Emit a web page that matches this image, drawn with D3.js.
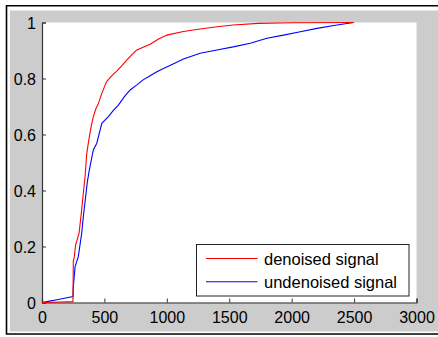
<!DOCTYPE html>
<html><head><meta charset="utf-8">
<script src="https://cdn.jsdelivr.net/npm/d3@7"></script>
<style>html,body{margin:0;padding:0;background:#fff;}svg{display:block;}</style>
</head><body>
<svg id="c" width="438" height="337"></svg>
<script>
// ---- data ----
const xTicks = [0, 500, 1000, 1500, 2000, 2500, 3000];
const yTicks = [0, 0.2, 0.4, 0.6, 0.8, 1];
const yTickLabels = ["0", "0.2", "0.4", "0.6", "0.8", "1"];
const seriesNames = ["denoised signal", "undenoised signal"];
const denoisedX = [0, 150, 248, 251, 258, 270, 272, 297, 315, 331, 345, 358, 371, 390, 411, 430, 452, 479, 500, 519, 560, 599, 640, 679, 720, 760, 810, 866, 930, 1000, 1133, 1267, 1401, 1532, 1732, 2005, 2497];
const denoisedY = [0, 0.002, 0.003, 0.15, 0.16, 0.208, 0.21, 0.248, 0.32, 0.39, 0.45, 0.53, 0.569, 0.62, 0.664, 0.69, 0.711, 0.747, 0.77, 0.79, 0.81, 0.826, 0.846, 0.866, 0.885, 0.902, 0.912, 0.922, 0.94, 0.955, 0.968, 0.977, 0.985, 0.991, 0.997, 0.999, 1];
const undenoisedX = [0, 60, 120, 180, 248, 251, 265, 291, 318, 331, 363, 379, 411, 439, 479, 532, 570, 612, 660, 706, 760, 810, 866, 920, 973, 1050, 1133, 1267, 1401, 1532, 1668, 1802, 1935, 2069, 2203, 2350, 2497];
const undenoisedY = [0, 0.005, 0.01, 0.015, 0.021, 0.056, 0.128, 0.164, 0.248, 0.306, 0.43, 0.473, 0.545, 0.569, 0.64, 0.664, 0.685, 0.705, 0.735, 0.759, 0.777, 0.795, 0.81, 0.824, 0.836, 0.852, 0.87, 0.89, 0.902, 0.913, 0.926, 0.944, 0.955, 0.967, 0.979, 0.99, 1];
const colors = ["#ff0000", "#0000ff"];

// ---- layout ----
const svg = d3.select("#c");
const font = "'Liberation Sans', Arial, Helvetica, sans-serif";
// frame
svg.append("rect").attr("x", 10).attr("y", 10.5).attr("width", 428).attr("height", 321).attr("fill", "#cccccc");
svg.append("path").attr("d", "M438,5.8H6.5V334H438").attr("fill", "none").attr("stroke", "#000").attr("stroke-width", 1.6);

const L = 42, R = 416.5, T = 22.5, B = 302.5;
svg.append("rect").attr("x", L).attr("y", T).attr("width", R - L).attr("height", B - T).attr("fill", "#fff");

const x = d3.scaleLinear().domain([0, 3000]).range([L, R]);
const y = d3.scaleLinear().domain([0, 1]).range([B, T]);

const xAxis = svg.append("g").attr("transform", `translate(0,${B})`)
  .call(d3.axisBottom(x).tickValues(xTicks).tickSize(-4).tickPadding(9).tickFormat(d3.format("d")));
const yAxis = svg.append("g").attr("transform", `translate(${L},0)`)
  .call(d3.axisLeft(y).tickValues(yTicks).tickSize(-4).tickPadding(6).tickFormat((d, i) => yTickLabels[i]));
[xAxis, yAxis].forEach(g => {
  g.select(".domain").attr("stroke", "#333").attr("stroke-width", 1.2);
  g.selectAll(".tick line").attr("stroke", "#333");
  g.selectAll("text").attr("font-family", font).attr("font-size", 16).attr("fill", "#000");
});
xAxis.selectAll("text").attr("dy", "0.71em");
yAxis.selectAll("text").attr("dy", "0.36em");

// ---- lines ----
const line = d3.line().x(d => x(d[0])).y(d => y(d[1]));
const series = [
  d3.zip(denoisedX, denoisedY),
  d3.zip(undenoisedX, undenoisedY)
];
// draw blue first then red on top? reference shows red mostly on top near the start
svg.append("path").datum(series[1]).attr("d", line).attr("fill", "none").attr("stroke", colors[1]).attr("stroke-width", 1.1);
svg.append("path").datum(series[0]).attr("d", line).attr("fill", "none").attr("stroke", colors[0]).attr("stroke-width", 1.1);

// ---- legend ----
const lg = svg.append("g");
lg.append("rect").attr("x", 196.5).attr("y", 244.5).attr("width", 212.5).attr("height", 51.5)
  .attr("fill", "#fff").attr("stroke", "#222").attr("stroke-width", 1);
seriesNames.forEach((n, i) => {
  const yy = 258.5 + i * 23.3;
  lg.append("line").attr("x1", 206).attr("x2", 257.5).attr("y1", yy).attr("y2", yy)
    .attr("stroke", colors[i]).attr("stroke-width", 1.1);
  lg.append("text").attr("x", 264).attr("y", yy + 6).text(n)
    .attr("font-family", font).attr("font-size", 16.5).attr("fill", "#000");
});
</script>
</body></html>
